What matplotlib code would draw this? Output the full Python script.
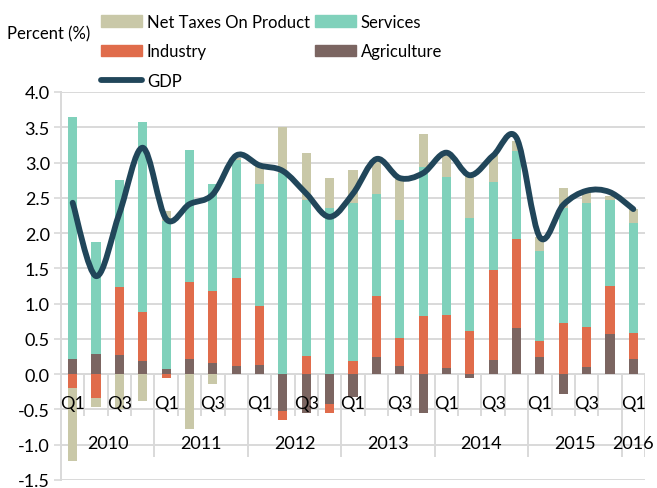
import numpy as np
import matplotlib.pyplot as plt
from matplotlib.path import Path
from matplotlib.patches import PathPatch
from matplotlib.lines import Line2D
from matplotlib.patches import Patch

plt.rcParams['font.family'] = ['Lato', 'DejaVu Sans']

years = ['2010', '2011', '2012', '2013', '2014', '2015', '2016']
quarters = ['Q1', 'Q2', 'Q3', 'Q4'] * 6 + ['Q1']

# contributions to growth, percentage points
agriculture = [0.22, 0.28, 0.27, 0.19, 0.08, 0.21, 0.16, 0.11, 0.13, -0.52, -0.55, -0.42, -0.33,
               0.25, 0.12, -0.55, 0.09, -0.05, 0.20, 0.65, 0.25, -0.28, 0.10, 0.57, 0.22]
industry = [-0.20, -0.34, 0.97, 0.69, -0.06, 1.10, 1.02, 1.25, 0.84, -0.13, 0.26, -0.13, 0.19,
            0.86, 0.39, 0.83, 0.75, 0.61, 1.28, 1.27, 0.22, 0.73, 0.57, 0.68, 0.37]
services = [3.43, 1.59, 1.51, 2.70, 2.09, 1.87, 1.52, 1.67, 1.72, 2.85, 2.21, 2.35, 2.24,
            1.44, 1.68, 2.10, 1.96, 1.60, 1.25, 1.25, 1.28, 1.62, 1.76, 1.22, 1.55]
net_taxes = [-1.03, -0.13, -0.50, -0.38, 0.15, -0.77, -0.14, 0.03, 0.27, 0.65, 0.66, 0.43, 0.47,
             0.48, 0.58, 0.47, 0.32, 0.60, 0.37, 0.14, 0.19, 0.29, 0.15, 0.06, 0.20]
gdp = [2.43, 1.39, 2.28, 3.21, 2.20, 2.41, 2.55, 3.10, 2.96, 2.88, 2.56, 2.23, 2.56,
       3.05, 2.78, 2.85, 3.14, 2.82, 3.10, 3.35, 1.94, 2.40, 2.60, 2.58, 2.34]

c_tax = '#c9c8a8'
c_srv = '#80d1bb'
c_ind = '#e06c4b'
c_agr = '#7b6561'
c_gdp = '#21465a'
c_grid = '#d9d9d9'

fig = plt.figure(figsize=(6.57, 4.89), dpi=100)
ax = fig.add_axes([61 / 657, 1 - 481 / 489, 584 / 657, 388 / 489])

x = np.arange(len(gdp))
w = 0.39

# stack positives upward and negatives downward, in the order agr, ind, srv, tax
pos = np.zeros(len(x))
neg = np.zeros(len(x))
for vals, col in [(agriculture, c_agr), (industry, c_ind), (services, c_srv), (net_taxes, c_tax)]:
    v = np.array(vals)
    base = np.where(v >= 0, pos, neg)
    ax.bar(x, v, w, bottom=base, color=col, zorder=3, linewidth=0)
    pos = pos + np.where(v >= 0, v, 0)
    neg = neg + np.where(v < 0, v, 0)

# smoothed GDP line (Excel style bezier)
g = np.array(gdp, dtype=float)
pts = np.column_stack([x, g])
verts = [pts[0]]
codes = [Path.MOVETO]
for i in range(len(pts) - 1):
    p0 = pts[max(i - 1, 0)]
    p1 = pts[i]
    p2 = pts[i + 1]
    p3 = pts[min(i + 2, len(pts) - 1)]
    verts += [p1 + (p2 - p0) / 6, p2 - (p3 - p1) / 6, p2]
    codes += [Path.CURVE4] * 3
ax.add_patch(PathPatch(Path(verts, codes), facecolor='none', edgecolor=c_gdp, lw=4.2,
                       capstyle='round', joinstyle='round', zorder=4))

ax.set_xlim(-0.5, len(x) - 0.5)
ax.set_ylim(-1.5, 4.0)
ax.set_yticks(np.arange(-1.5, 4.01, 0.5))
ax.set_yticklabels([f'{t:.1f}' for t in np.arange(-1.5, 4.01, 0.5)], fontsize=13)
ax.tick_params(axis='y', length=5, color=c_grid, width=1.2, pad=3)
ax.set_xticks([])
ax.grid(axis='y', color=c_grid, lw=1.4, zorder=0)
for s in ['top', 'right', 'bottom']:
    ax.spines[s].set_visible(False)
ax.spines['left'].set_color(c_grid)
ax.spines['left'].set_linewidth(1.4)

# category axis drawn at zero
ax.axhline(0, color=c_grid, lw=1.4, zorder=2)
for b in np.arange(0.5, len(x) - 0.5, 1.0):
    long_tick = (b + 0.5) % 4 == 0
    ax.vlines(b, -1.18 if long_tick else -0.59, 0, color=c_grid, lw=1.4, zorder=2)
ax.vlines(len(x) - 0.5, -1.18, 0, color=c_grid, lw=1.4, zorder=2)
for i, q in enumerate(quarters):
    if q in ('Q1', 'Q3'):
        ax.text(i, -0.41, q, ha='center', va='center', fontsize=13, zorder=5)
for k, yr in enumerate(years):
    first = 4 * k
    last = min(4 * k + 3, len(x) - 1)
    ax.text((first + last) / 2, -0.98, yr, ha='center', va='center', fontsize=13, zorder=5)

fig.text(7 / 657, 1 - 34 / 489, 'Percent (%)', fontsize=12, va='center', ha='left')

leg_kw = dict(loc='upper left', frameon=False, fontsize=12, handlelength=2.45, handleheight=0.72,
              handletextpad=0.3, labelspacing=0.8, borderpad=0, borderaxespad=0)
leg1 = fig.legend([Patch(color=c_tax), Patch(color=c_ind),
                   Line2D([], [], color=c_gdp, lw=4.2, solid_capstyle='round')],
                  ['Net Taxes On Product', 'Industry', 'GDP'],
                  bbox_to_anchor=(101 / 657, 1 - 15 / 489), **leg_kw)
leg2 = fig.legend([Patch(color=c_srv), Patch(color=c_agr)], ['Services', 'Agriculture'],
                  bbox_to_anchor=(315 / 657, 1 - 15 / 489), **leg_kw)

fig.savefig('out.png', dpi=100)
